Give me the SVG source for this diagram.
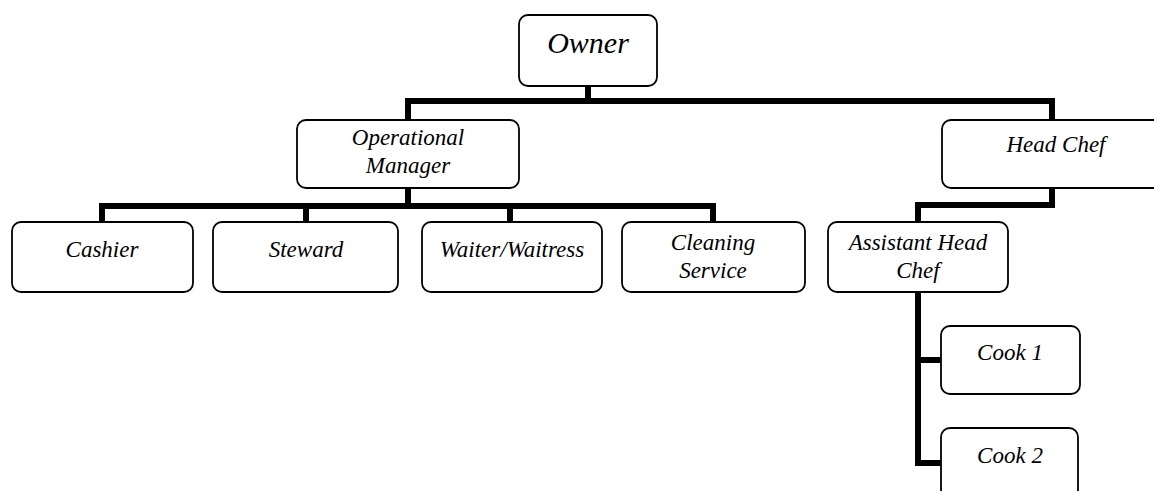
<svg xmlns="http://www.w3.org/2000/svg" width="1154" height="491" viewBox="0 0 1154 491">
<style>
.box{fill:#fff;stroke:#000;stroke-width:1.8}
.t{font-family:"Liberation Serif","Times New Roman",serif;font-style:italic;font-size:23px;fill:#000;text-anchor:middle}
.big{font-size:30px}
.c{fill:none;stroke:#000;stroke-width:6;stroke-linejoin:miter;stroke-linecap:butt}
</style>
<rect width="1154" height="491" fill="#fff"/>
<g id="connectors">
<path class="c" d="M588,86 V101"/>
<path class="c" d="M408,120 V101 H1052 V120"/>
<path class="c" d="M408,188 V206"/>
<path class="c" d="M102,222 V206 H713 V222"/>
<path class="c" d="M306,206 V222"/>
<path class="c" d="M510,206 V222"/>
<path class="c" d="M1052,188 V205 H918 V222"/>
<path class="c" d="M918,292 V463 H942"/>
<path class="c" d="M918,360 H942"/>
</g>
<g id="owner"><rect class="box" x="519" y="15" width="138" height="71" rx="9"/><text class="t big" x="588" y="53">Owner</text></g>
<g id="operational-manager"><rect class="box" x="297" y="120" width="222" height="68" rx="9"/><text class="t" x="408" y="145">Operational</text><text class="t" x="408" y="173">Manager</text></g>
<g id="head-chef"><rect class="box" x="942" y="120" width="224" height="68" rx="9"/><text class="t" x="1056" y="152">Head Chef</text></g>
<g id="cashier"><rect class="box" x="12" y="222" width="181" height="70" rx="9"/><text class="t" x="102" y="257">Cashier</text></g>
<g id="steward"><rect class="box" x="213" y="222" width="185" height="70" rx="9"/><text class="t" x="306" y="257">Steward</text></g>
<g id="waiter"><rect class="box" x="422" y="222" width="180" height="70" rx="9"/><text class="t" x="512" y="257">Waiter/Waitress</text></g>
<g id="cleaning-service"><rect class="box" x="622" y="222" width="183" height="70" rx="9"/><text class="t" x="713" y="250">Cleaning</text><text class="t" x="713" y="278">Service</text></g>
<g id="assistant-head-chef"><rect class="box" x="828" y="222" width="180" height="70" rx="9"/><text class="t" x="918" y="250">Assistant Head</text><text class="t" x="918" y="278">Chef</text></g>
<g id="cook-1"><rect class="box" x="941" y="326" width="139" height="68" rx="9"/><text class="t" x="1010" y="360">Cook 1</text></g>
<g id="cook-2"><rect class="box" x="941" y="428" width="137" height="70" rx="9"/><text class="t" x="1010" y="463">Cook 2</text></g>
</svg>
